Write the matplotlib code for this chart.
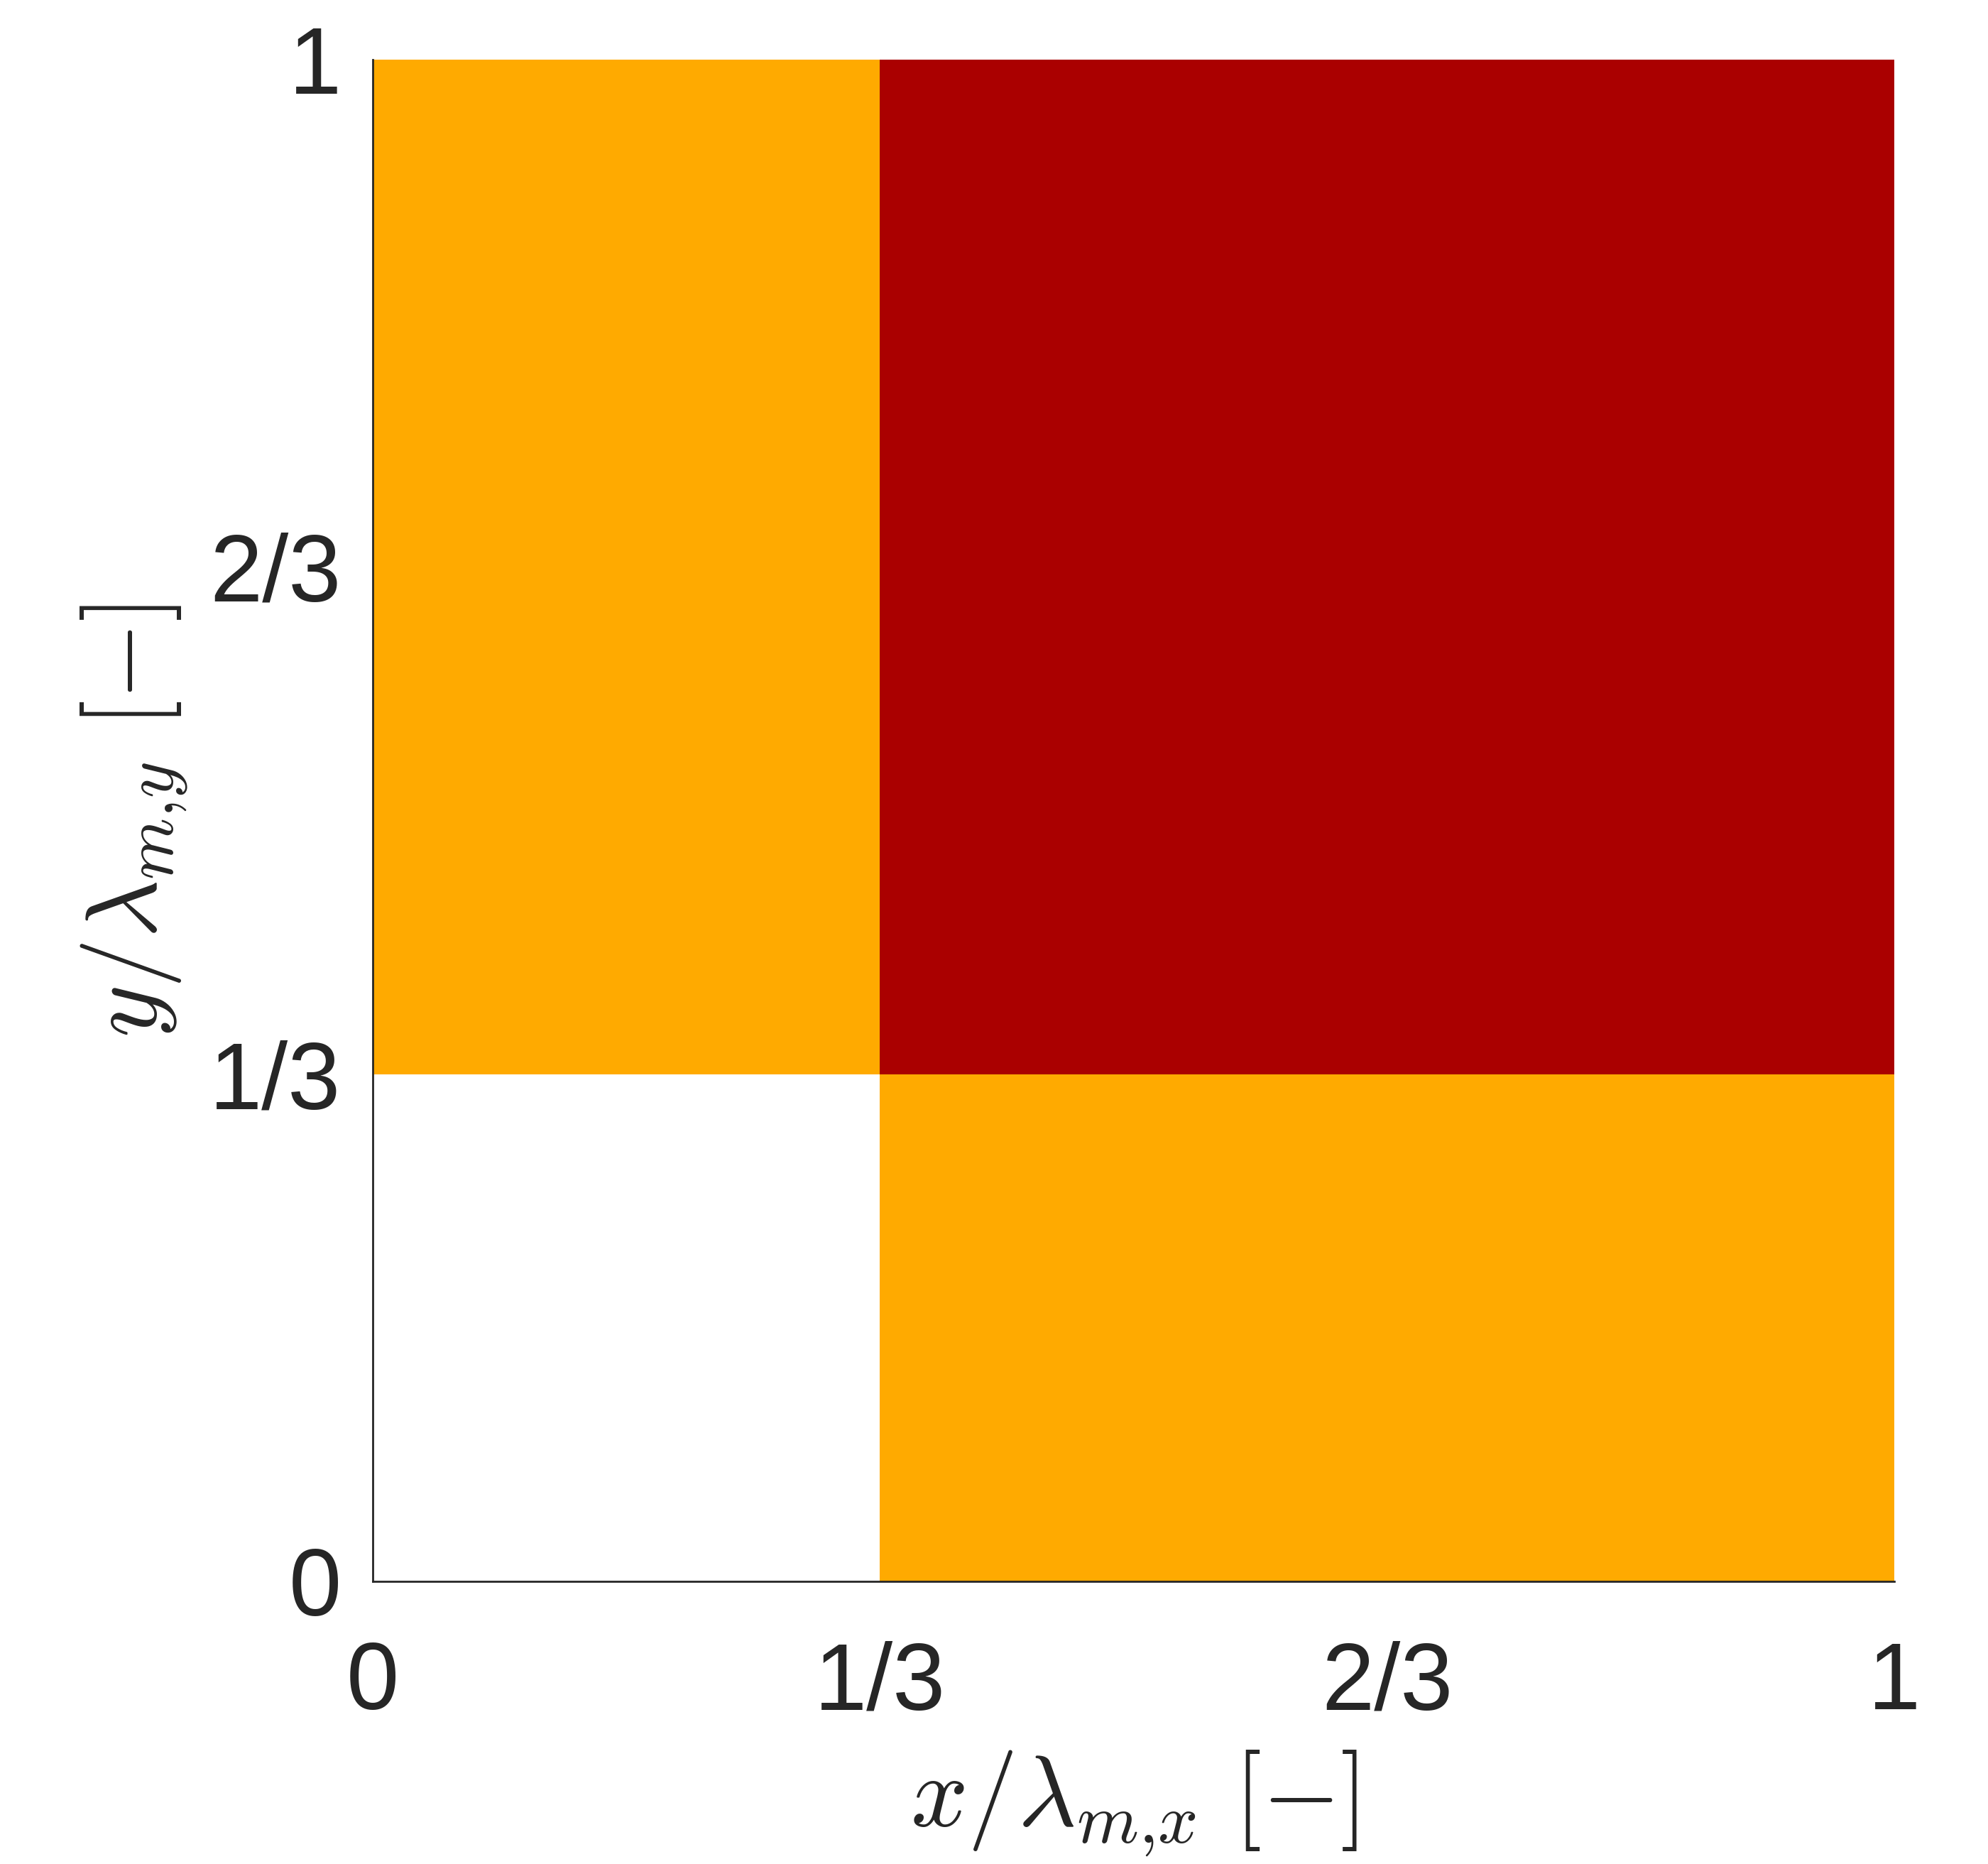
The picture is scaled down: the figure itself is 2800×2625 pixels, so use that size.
import numpy as np
import matplotlib.pyplot as plt
from matplotlib.colors import ListedColormap

# cell edges and cell values (2x2 grid)
x_edges = [0, 1/3, 1]
y_edges = [0, 1/3, 1]
cell_values = np.array([[0, 1],
                        [1, 2]])  # rows: y (bottom -> top), cols: x

tick_pos = [0, 1/3, 2/3, 1]
tick_labels = ['0', '1/3', '2/3', '1']

cell_colors = ['#FFFFFF', '#FFAA00', '#AA0000']

plt.rcParams['mathtext.fontset'] = 'cm'
plt.rcParams['font.family'] = ['Liberation Sans', 'DejaVu Sans']
text_col = '#262626'

fig = plt.figure(figsize=(14, 13.125), dpi=200)
ax = fig.add_axes([0.1875, 0.1517, 0.7653, 0.8163])

cmap = ListedColormap(cell_colors)
ax.pcolormesh(x_edges, y_edges, cell_values, cmap=cmap, vmin=-0.5, vmax=2.5,
              shading='flat', antialiased=False)

ax.set_xlim(0, 1)
ax.set_ylim(0, 1)
ax.set_xticks(tick_pos)
ax.set_xticklabels(tick_labels)
ax.set_yticks(tick_pos)
ax.set_yticklabels(tick_labels)
ax.tick_params(axis='both', length=0, labelsize=48, colors=text_col)
ax.tick_params(axis='x', pad=30)
ax.tick_params(axis='y', pad=16)

for side in ['top', 'right']:
    ax.spines[side].set_visible(False)
for side in ['left', 'bottom']:
    ax.spines[side].set_color(text_col)
    ax.spines[side].set_linewidth(1.0)

ax.set_xlabel(r'$x/\lambda_{m{,}x}\ [-]$', fontsize=51, color=text_col, labelpad=10)
ax.set_ylabel(r'$y/\lambda_{m{,}y}\ [-]$', fontsize=51, color=text_col, labelpad=10)

fig.savefig('out.png', dpi=200, facecolor='white')
